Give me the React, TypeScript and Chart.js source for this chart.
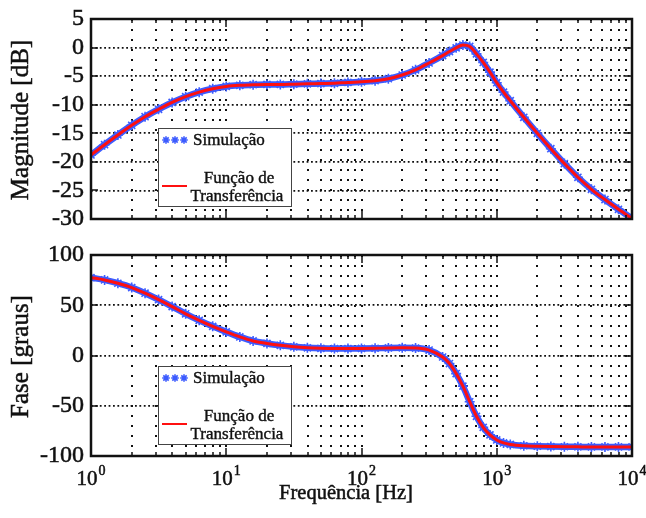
import React, { useEffect, useRef } from 'react';
import { Chart, registerables } from 'chart.js';

Chart.register(...registerables);

// ---------------- data ----------------
const frequencyHz = [
  1, 1.26, 1.58, 2, 2.51, 3.16, 3.98, 5.01, 6.31, 7.94,
  10, 12.6, 15.8, 20, 25.1, 31.6, 39.8, 50.1, 63.1, 79.4,
  100, 126, 158, 200, 251, 316, 398, 447, 501, 562, 631, 708, 794, 891,
  1000, 1122, 1259, 1585, 1995, 2512, 3162, 3981, 5012, 6310, 7943, 10000,
];

const magnitudeDb = [
  -18.8, -17.0, -15.3, -13.6, -12.1, -10.8, -9.6, -8.6, -7.8, -7.2,
  -6.8, -6.6, -6.5, -6.45, -6.45, -6.4, -6.35, -6.3, -6.25, -6.1,
  -6.0, -5.8, -5.45, -4.8, -3.9, -2.7, -1.4, -0.7, -0.05, 0.45, 0.2, -1.1, -2.6, -4.3,
  -6.15, -7.8, -9.3, -12.2, -15.0, -17.7, -20.3, -22.7, -24.8, -26.6, -28.3, -29.9,
];

const phaseDeg = [
  77.5, 75.2, 71.9, 67.6, 62, 55.6, 48.7, 41.5, 35, 29,
  23.5, 18.5, 14.5, 12, 10.1, 8.6, 7.6, 7.1, 6.9, 6.9,
  7.0, 7.2, 7.5, 7.6, 7.4, 5.4, -1.5, -8, -18, -30.5, -46, -60.5, -71.5, -79,
  -84, -87, -88.5, -89.8, -90.3, -90.6, -90.8, -90.9, -91, -91, -91, -91,
];

const decadeValues = [1, 10, 100, 1000, 10000];
const decadeExponents = ['0', '1', '2', '3', '4'];
const magnitudeRange = [-30, 5];
const magnitudeStep = 5;
const phaseRange = [-100, 100];
const phaseStep = 50;
const seriesLabels = ['Simulação', 'Função de', 'Transferência'];
const axisTitles = ['Magnitude [dB]', 'Fase [graus]', 'Frequência [Hz]'];

// ---------------- style ----------------
const FONT = '"Liberation Serif", "Times New Roman", serif';
const BLUE = '#3d5cff';
const RED = '#ff1010';
const INK = '#111111';
const STROKE = 0.5;

const gridValues: number[] = [];
decadeValues.slice(0, -1).forEach((d) => {
  for (let m = 1; m < 10; m++) gridValues.push(m * d);
});
gridValues.push(decadeValues[decadeValues.length - 1]);

function drawStar(ctx: CanvasRenderingContext2D, x: number, y: number, r: number) {
  ctx.beginPath();
  for (let k = 0; k < 4; k++) {
    const a = (k * Math.PI) / 4;
    ctx.moveTo(x - r * Math.cos(a), y - r * Math.sin(a));
    ctx.lineTo(x + r * Math.cos(a), y + r * Math.sin(a));
  }
  ctx.stroke();
}

function heavyText(ctx: CanvasRenderingContext2D, s: string, x: number, y: number) {
  ctx.fillText(s, x, y);
  ctx.strokeText(s, x, y);
}

const framePlugin = {
  id: 'bodeFrame',
  afterDraw(chart: any, _args: any, opts: any) {
    const { ctx, chartArea: a, scales } = chart;
    const xs = scales.x;
    const ys = scales.y;
    ctx.save();

    // inward tick marks
    ctx.strokeStyle = INK;
    ctx.lineWidth = 1.5;
    ctx.beginPath();
    gridValues.forEach((v) => {
      const px = Math.round(xs.getPixelForValue(v));
      const len = decadeValues.includes(v) ? 8 : 4;
      ctx.moveTo(px, a.top);
      ctx.lineTo(px, a.top + len);
      ctx.moveTo(px, a.bottom);
      ctx.lineTo(px, a.bottom - len);
    });
    ys.ticks.forEach((t: any) => {
      const py = Math.round(ys.getPixelForValue(t.value));
      ctx.moveTo(a.left, py);
      ctx.lineTo(a.left + 7, py);
      ctx.moveTo(a.right, py);
      ctx.lineTo(a.right - 7, py);
    });
    ctx.stroke();

    // frame
    ctx.lineWidth = 2.5;
    ctx.strokeRect(a.left, a.top, a.right - a.left, a.bottom - a.top);

    // y title
    ctx.fillStyle = INK;
    ctx.strokeStyle = INK;
    ctx.lineWidth = STROKE;
    ctx.font = `25px ${FONT}`;
    ctx.textAlign = 'center';
    ctx.textBaseline = 'alphabetic';
    ctx.save();
    ctx.translate(28, (a.top + a.bottom) / 2 + 1);
    ctx.rotate(-Math.PI / 2);
    heavyText(ctx, opts.yTitle, 0, 0);
    ctx.restore();

    // legend
    const bx = 158.5;
    const by = Math.round(a.top + opts.legendOffset) + 0.5;
    const bw = 133;
    const bh = 78;
    ctx.fillStyle = '#ffffff';
    ctx.fillRect(bx, by, bw, bh);
    ctx.strokeStyle = '#444';
    ctx.lineWidth = 1;
    ctx.strokeRect(bx, by, bw, bh);

    ctx.strokeStyle = BLUE;
    ctx.lineWidth = 1.6;
    [166, 175, 184].forEach((sx) => drawStar(ctx, sx, by + 11.5, 3.8));
    ctx.strokeStyle = RED;
    ctx.lineWidth = 2;
    ctx.beginPath();
    ctx.moveTo(162, by + 57.5);
    ctx.lineTo(187, by + 57.5);
    ctx.stroke();

    ctx.fillStyle = INK;
    ctx.strokeStyle = INK;
    ctx.lineWidth = 0.4;
    ctx.font = `17px ${FONT}`;
    ctx.textBaseline = 'middle';
    ctx.textAlign = 'left';
    heavyText(ctx, seriesLabels[0], 193, by + 12);
    ctx.textAlign = 'center';
    heavyText(ctx, seriesLabels[1], 239, by + 50);
    heavyText(ctx, seriesLabels[2], 237, by + 68);

    // x tick labels and title
    if (opts.xLabels) {
      ctx.lineWidth = STROKE;
      ctx.textBaseline = 'alphabetic';
      ctx.textAlign = 'left';
      const base = a.bottom + 29;
      decadeValues.forEach((v, i) => {
        const px = xs.getPixelForValue(v);
        ctx.font = `21px ${FONT}`;
        const w10 = ctx.measureText('10').width;
        ctx.font = `14px ${FONT}`;
        const we = ctx.measureText(decadeExponents[i]).width;
        const start = px - (w10 + we + 1) / 2;
        ctx.font = `21px ${FONT}`;
        heavyText(ctx, '10', start, base);
        ctx.font = `14px ${FONT}`;
        heavyText(ctx, decadeExponents[i], start + w10 + 1, base - 10);
      });
      ctx.font = `20.5px ${FONT}`;
      ctx.textAlign = 'center';
      heavyText(ctx, axisTitles[2], 346, a.bottom + 43);
    }
    ctx.restore();
  },
};

function buildConfig(values: number[], range: number[], step: number, padding: any, opts: any) {
  const pts = frequencyHz.map((f, i) => ({ x: f, y: values[i] }));
  return {
    type: 'line',
    data: {
      datasets: [
        {
          label: 'Função de Transferência',
          data: pts,
          borderColor: RED,
          backgroundColor: RED,
          borderWidth: 3,
          pointRadius: 0,
          cubicInterpolationMode: 'monotone',
          order: 0,
        },
        {
          label: 'Simulação',
          data: pts,
          borderColor: BLUE,
          backgroundColor: BLUE,
          borderWidth: 6.5,
          pointStyle: 'star',
          pointRadius: 5,
          pointBorderColor: BLUE,
          pointBorderWidth: 1.6,
          cubicInterpolationMode: 'monotone',
          order: 1,
        },
      ],
    },
    options: {
      animation: false,
      responsive: true,
      maintainAspectRatio: false,
      events: [],
      layout: { padding },
      plugins: {
        legend: { display: false },
        tooltip: { enabled: false },
        bodeFrame: opts,
      },
      scales: {
        x: {
          type: 'logarithmic',
          min: decadeValues[0],
          max: decadeValues[decadeValues.length - 1],
          afterBuildTicks: (s: any) => {
            s.ticks = gridValues.map((v) => ({ value: v, major: decadeValues.includes(v) }));
          },
          ticks: { display: false },
          grid: { color: '#111', lineWidth: 2, drawTicks: false },
          border: { display: false, dash: [2, 8] },
          afterFit: (s: any) => {
            s.height = 0;
          },
        },
        y: {
          min: range[0],
          max: range[1],
          ticks: {
            stepSize: step,
            font: { family: FONT, size: 24, lineHeight: 1 },
            color: INK,
            padding: 7,
            textStrokeColor: INK,
            textStrokeWidth: STROKE,
          },
          grid: { color: '#111', lineWidth: 1.8, drawTicks: false },
          border: { display: false, dash: [1.8, 2.6] },
          afterFit: (s: any) => {
            s.width = 91;
          },
        },
      },
    },
    plugins: [framePlugin],
  };
}

function Panel({ top, height, config }: { top: number; height: number; config: any }) {
  const ref = useRef<HTMLCanvasElement>(null);
  useEffect(() => {
    const chart = new Chart(ref.current as HTMLCanvasElement, config);
    return () => chart.destroy();
  }, []);
  return (
    <div style={{ position: 'absolute', left: 0, top, width: 646, height }}>
      <canvas ref={ref} />
    </div>
  );
}

export default function App() {
  const magConfig = buildConfig(
    magnitudeDb,
    magnitudeRange,
    magnitudeStep,
    { top: 15, right: 14, bottom: 21, left: 0 },
    { yTitle: axisTitles[0], legendOffset: 109, xLabels: false }
  );
  const phaseConfig = buildConfig(
    phaseDeg,
    phaseRange,
    phaseStep,
    { top: 16, right: 14, bottom: 62, left: 0 },
    { yTitle: axisTitles[1], legendOffset: 111, xLabels: true }
  );
  return (
    <div style={{ position: 'fixed', left: 0, top: 0, width: 646, height: 518, background: '#fff' }}>
      <Panel top={0} height={240} config={magConfig} />
      <Panel top={236} height={282} config={phaseConfig} />
    </div>
  );
}
